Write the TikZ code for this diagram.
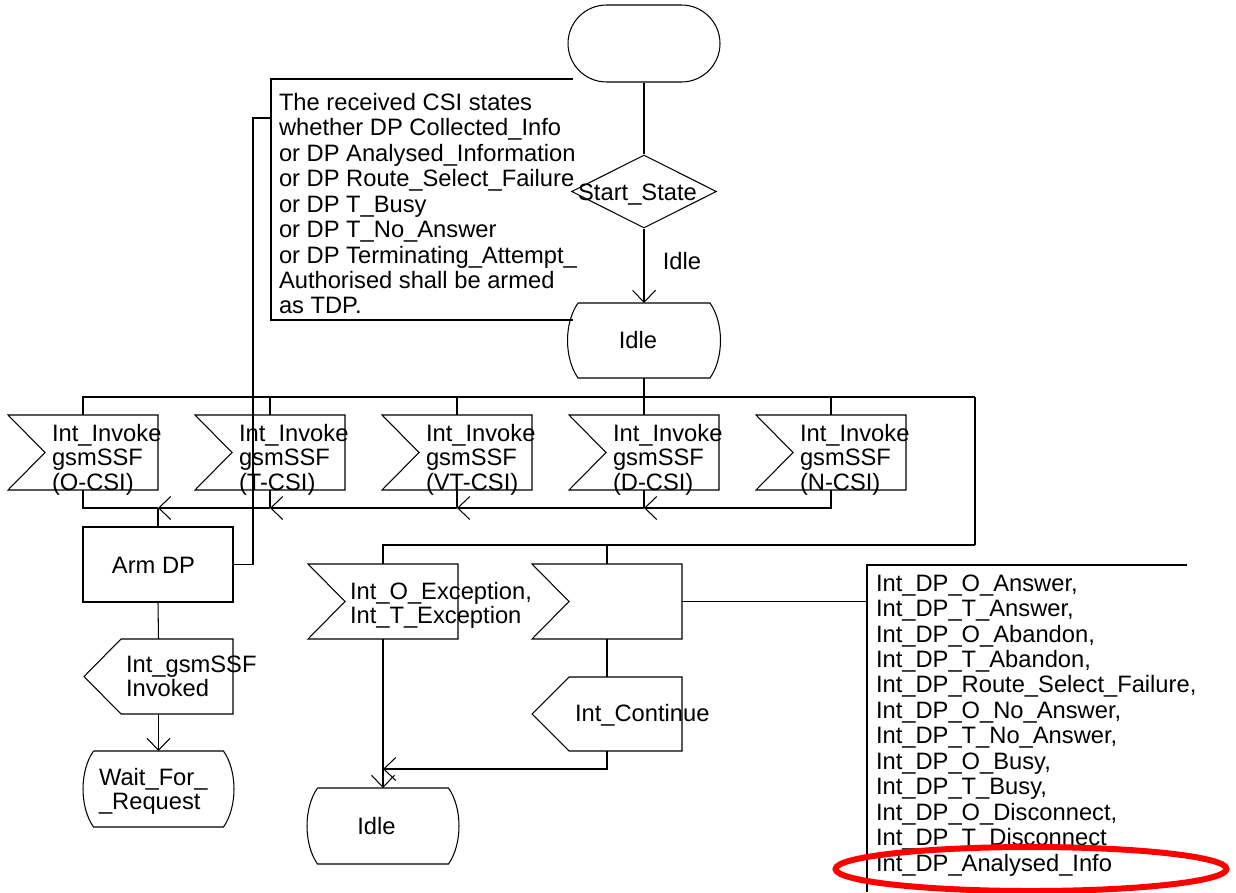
\documentclass[tikz,border=0pt]{standalone}
\usepackage{fontspec}
\setmainfont{Liberation Sans}
\usetikzlibrary{shapes.geometric,shapes.misc,arrows.meta,calc}
\tikzset{
  sdl/.style={draw=black, line width=0.6pt},
  thk/.style={draw=black, line width=1.2pt},
  arr/.style={-{Straight Barb[length=2.4mm,width=4.6mm,line width=0.6pt]}},
  frm/.style={inner sep=0pt, outer sep=0pt, minimum height=1.5cm},
  txt/.style={inner sep=0pt, outer sep=0pt, align=left, font=\fontsize{13.5}{14.5}\selectfont},
  ftxt/.style={inner sep=0pt, outer sep=0pt, align=left, font=\fontsize{13.5}{13.8}\selectfont},
}
\newcommand\sdlin[1]{\draw[sdl] (#1.north west) -- (#1.north east) -- (#1.south east) -- (#1.south west) -- ([shift={(37,0)}]#1.west) -- cycle;}
\newcommand\sdlout[1]{\draw[sdl] ([shift={(37,0)}]#1.north west) -- (#1.north east) -- (#1.south east) -- ([shift={(37,0)}]#1.south west) -- (#1.west) -- cycle;}
\newcommand\sdlstate[1]{\draw[sdl] (#1.north west) -- (#1.north east) .. controls ([shift={(14,20)}]#1.north east) and ([shift={(14,-20)}]#1.south east) .. (#1.south east) -- (#1.south west) .. controls ([shift={(-14,-20)}]#1.south west) and ([shift={(-14,20)}]#1.north west) .. (#1.north west);}
\begin{document}
\begin{tikzpicture}[x=0.02cm, y=-0.02cm]
\useasboundingbox (0,0) rectangle (1236,892);

% start, decision, first state
\node[rounded rectangle, sdl, inner sep=0pt, minimum width=3.04cm, minimum height=1.54cm] (start) at (644,43.5) {};
\node[diamond, sdl, inner sep=0pt, minimum width=2.9cm, minimum height=1.46cm] (dec) at (644,191.5) {};
\node[txt, anchor=base] (dectxt) at (637.5,200.5) {Start\_State};
\node[frm, minimum width=2.64cm] (idle1) at (644,340.5) {};
\sdlstate{idle1}
\node[txt, anchor=base] (idle1txt) at (638,348.5) {Idle};
\draw[sdl] (start.south) -- (dec.north);
\draw[sdl, arr] (dec.south) -- (idle1.north);
\node[txt, anchor=base] (lblidle) at (682,269.5) {Idle};

% left comment
\node[txt, anchor=north west] (cmt) at (279,93) {The received CSI states\\whether DP Collected\_Info\\or DP Analysed\_Information\\or DP Route\_Select\_Failure\\or DP T\_Busy\\or DP T\_No\_Answer\\or DP Terminating\_Attempt\_\\Authorised shall be armed\\as TDP.};
\draw[sdl] (573,79) -- (271,79) -- (271,320) -- (573,320);
\coordinate (cmtA) at (271,118);

% input signals row
\foreach \i/\cx/\lab in {1/83/O-CSI,2/270/T-CSI,3/457/VT-CSI,4/644/D-CSI,5/831/N-CSI} {
  \node[frm, minimum width=3cm] (f\i) at (\cx,452.5) {};
  \sdlin{f\i}
  \node[ftxt, anchor=north west] (f\i txt) at (\cx-31,424.5) {Int\_Invoke\\gsmSSF\\(\lab)};
}
\coordinate (bus) at (644,397);
\coordinate (busR) at (975,397);
\coordinate (bus2) at (975,545);
\draw[thk] (idle1.south) -- (bus);
\foreach \i in {1,...,5} { \draw[sdl] (bus) -| (f\i.north); }
\draw[thk] (bus -| f2.north) -- (busR);
\draw[sdl] (busR) -- (bus2);

% merging below the inputs
\coordinate (m1) at (158,508);
\coordinate (m2) at (270,508);
\coordinate (m3) at (457,508);
\coordinate (m4) at (644,508);
\draw[sdl, arr] (f5.south) |- (m4);
\draw[sdl] (f4.south) -- (m4);
\draw[thk, arr] (m4) -- (m3);
\draw[sdl] (f3.south) -- (m3);
\draw[thk, arr] (m3) -- (m2);
\draw[sdl] (f2.south) -- (m2);
\draw[thk, arr] (m2) -- (m1);
\draw[sdl] (f1.south) |- (m1);

% left branch
\node[frm, sdl, minimum width=3cm] (arm) at (158,564.5) {};
\node[txt, anchor=base] (armtxt) at (153.5,573.5) {Arm DP};
\draw[thk] (m1) -- (arm.north);
\draw[sdl] (cmtA) -- ++(-18,0) |- (arm.east);
\node[frm, minimum width=2.98cm] (out1) at (158.5,676.5) {};
\sdlout{out1}
\node[ftxt, anchor=north west] (out1txt) at (126,656) {Int\_gsmSSF\\Invoked};
\node[frm, minimum width=2.6cm, minimum height=1.52cm] (wait) at (158.5,789) {};
\sdlstate{wait}
\node[ftxt, anchor=north west] (waittxt) at (99,768) {Wait\_For\_\\\_Request};
\draw[sdl] (arm.south) -- (out1.north);
\draw[sdl, arr] (out1.south) -- (wait.north);

% lower inputs
\node[frm, minimum width=3cm] (e1) at (383,601.5) {};
\sdlin{e1}
\node[ftxt, anchor=north west] (e1txt) at (350,582.5) {Int\_O\_Exception,\\Int\_T\_Exception};
\node[frm, minimum width=3cm] (e2) at (607,601.5) {};
\sdlin{e2}
\draw[sdl] (bus2) -| (e1.north);
\draw[sdl] (bus2) -| (e2.north);
\node[frm, minimum width=3cm, minimum height=1.48cm] (cont) at (607,714) {};
\sdlout{cont}
\node[txt, anchor=base west] (conttxt) at (575,721.5) {Int\_Continue};
\node[frm, minimum width=2.62cm, minimum height=1.52cm] (idle2) at (383,826) {};
\sdlstate{idle2}
\node[txt, anchor=base] (idle2txt) at (376.5,834.5) {Idle};
\coordinate (m5) at (383,769);
\draw[sdl, arr] (e1.south) -- (idle2.north);
\draw[sdl] (e2.south) -- (cont.north);
\draw[sdl, arr] (cont.south) |- (m5);

% right comment
\draw[sdl] (1187,565) -- (867,565) -- (867,892);
\coordinate (cmtB) at (867,601.5);
\draw[sdl] (e2.east) -- (cmtB);
\node[txt, anchor=north west] (cmtR) at (876,574.5) {Int\_DP\_O\_Answer,\\Int\_DP\_T\_Answer,\\Int\_DP\_O\_Abandon,\\Int\_DP\_T\_Abandon,\\Int\_DP\_Route\_Select\_Failure,\\Int\_DP\_O\_No\_Answer,\\Int\_DP\_T\_No\_Answer,\\Int\_DP\_O\_Busy,\\Int\_DP\_T\_Busy,\\Int\_DP\_O\_Disconnect,\\Int\_DP\_T\_Disconnect\\Int\_DP\_Analysed\_Info};
\draw[red, line width=3.4pt] (1031,869) ellipse [x radius=3.91cm, y radius=0.44cm];
\end{tikzpicture}
\end{document}
